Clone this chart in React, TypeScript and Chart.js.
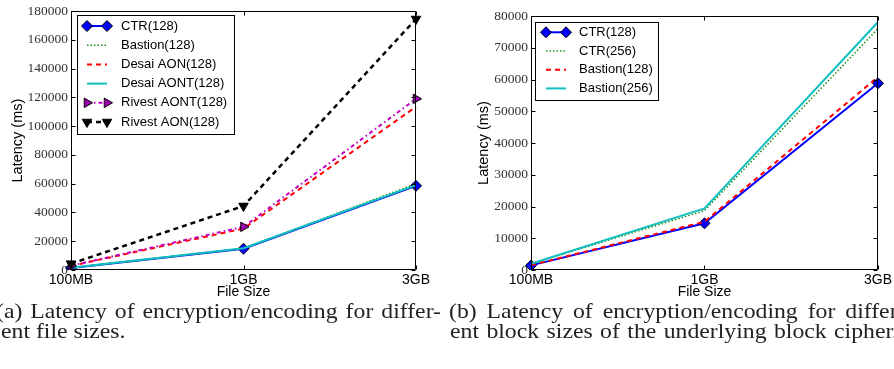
import React, { useEffect, useRef } from 'react';
import { Chart, registerables } from 'chart.js';
import { drawPoint } from 'chart.js/helpers';

Chart.register(...registerables);

// ---- data ----
const fileSizes = ['100MB', '1GB', '3GB'];

// (a) different file sizes
const aCtr128 = [1450, 14800, 58500];
const aBastion128 = [1500, 15000, 60000];
const aDesaiAon128 = [2900, 28800, 113500];
const aDesaiAont128 = [1500, 15100, 59000];
const aRivestAont128 = [3000, 30000, 119000];
const aRivestAon128 = [4400, 44500, 174500];
const aYMax = 180000;
const aYStep = 20000;

// (b) different block sizes
const bCtr128 = [1450, 14700, 58800];
const bCtr256 = [1900, 18700, 76000];
const bBastion128 = [1500, 15200, 60800];
const bBastion256 = [1950, 19400, 78100];
const bYMax = 80000;
const bYStep = 10000;

const captionA1 = '(a) Latency of encryption/encoding for differ-';
const captionA2 = 'ent file sizes.';
const captionB1 = '(b) Latency of encryption/encoding for differ-';
const captionB2 = 'ent block sizes of the underlying block cipher.';

// ---- styles ----
const BLUE = '#0000ff';
const GREEN = '#1a8c1a';
const RED = '#ff0000';
const CYAN = '#12bfbf';
const MAGENTA = '#c000c0';
const BLACK = '#000000';

const SANS = '"Liberation Sans", Arial, sans-serif';
const SERIF = '"Liberation Serif", "Times New Roman", serif';

function styleCtr(label: string, data: number[]) {
  return {
    label, data, borderColor: BLUE, backgroundColor: BLUE, borderWidth: 2,
    pointStyle: 'rectRot', pointRadius: 5.5, pointBackgroundColor: BLUE,
    pointBorderColor: '#000', pointBorderWidth: 1, pointRotation: 0,
  };
}
function styleDotted(label: string, data: number[], color: string) {
  return { label, data, borderColor: color, backgroundColor: color, borderWidth: 1.5, borderDash: [1.5, 2], pointRadius: 0 };
}
function styleDashed(label: string, data: number[], color: string, w = 2) {
  return { label, data, borderColor: color, backgroundColor: color, borderWidth: w, borderDash: [5, 4], pointRadius: 0 };
}
function styleSolid(label: string, data: number[], color: string) {
  return { label, data, borderColor: color, backgroundColor: color, borderWidth: 2, pointRadius: 0 };
}

const frameTicks = {
  id: 'frameTicks',
  afterDatasetsDraw(chart: any) {
    const { ctx, chartArea: a, scales } = chart;
    const L = Math.round(a.left) + 0.5;
    const R = Math.round(a.right) - 0.5;
    const T = Math.round(a.top) + 0.5;
    const B = Math.round(a.bottom) - 0.5;
    const tl = 4;
    ctx.save();
    ctx.strokeStyle = '#000';
    ctx.lineWidth = 1;
    ctx.setLineDash([]);
    ctx.beginPath();
    ctx.rect(L, T, R - L, B - T);
    const ys = scales.y;
    ys.ticks.forEach((_t: any, i: number) => {
      const py = Math.round(ys.getPixelForTick(i)) + 0.5;
      ctx.moveTo(L, py); ctx.lineTo(L + tl, py);
      ctx.moveTo(R, py); ctx.lineTo(R - tl, py);
    });
    const xs = scales.x;
    xs.ticks.forEach((_t: any, i: number) => {
      const px = Math.round(xs.getPixelForTick(i)) + 0.5;
      ctx.moveTo(px, B); ctx.lineTo(px, B - tl);
      ctx.moveTo(px, T); ctx.lineTo(px, T + tl);
    });
    ctx.stroke();
    ctx.restore();
  },
};

const boxLegend = {
  id: 'boxLegend',
  afterDraw(chart: any, _args: any, o: any) {
    if (!o || o.w === undefined) return;
    const { ctx } = chart;
    ctx.save();
    ctx.fillStyle = '#fff';
    ctx.fillRect(o.x, o.y, o.w, o.h);
    ctx.strokeStyle = '#000';
    ctx.lineWidth = 1;
    ctx.setLineDash([]);
    ctx.strokeRect(o.x + 0.5, o.y + 0.5, o.w, o.h);
    chart.data.datasets.forEach((ds: any, i: number) => {
      const cy = o.rowStart + i * o.rowStep;
      ctx.strokeStyle = ds.borderColor;
      ctx.lineWidth = ds.borderWidth;
      ctx.setLineDash(ds.borderDash || []);
      ctx.beginPath();
      ctx.moveTo(o.x1, cy);
      ctx.lineTo(o.x2, cy);
      ctx.stroke();
      ctx.setLineDash([]);
      if (ds.pointRadius > 0) {
        [o.x1, o.x2].forEach((px: number) => {
          ctx.fillStyle = ds.pointBackgroundColor;
          ctx.strokeStyle = ds.pointBorderColor;
          ctx.lineWidth = ds.pointBorderWidth;
          drawPoint(ctx, { pointStyle: ds.pointStyle, rotation: ds.pointRotation || 0, radius: ds.pointRadius, borderWidth: ds.pointBorderWidth }, px, cy);
        });
      }
      ctx.fillStyle = '#000';
      ctx.font = `13px ${SANS}`;
      ctx.textBaseline = 'middle';
      ctx.textAlign = 'left';
      ctx.fillText(ds.label, o.textX, cy);
    });
    ctx.restore();
  },
};

function makeConfig(datasets: any[], yMax: number, yStep: number, yWidth: number, padding: any, yTitlePad: number, legend: any) {
  const n = datasets.length;
  datasets.forEach((d, i) => { d.order = n - 1 - i; d.tension = 0; d.fill = false; });
  return {
    type: 'line',
    data: { labels: fileSizes, datasets },
    options: {
      animation: false,
      responsive: false,
      maintainAspectRatio: false,
      layout: { padding },
      plugins: { legend: { display: false }, tooltip: { enabled: false }, boxLegend: legend },
      scales: {
        x: {
          type: 'category',
          offset: false,
          grid: { display: false, drawTicks: false },
          border: { display: false },
          ticks: { color: '#000', font: { family: SANS, size: 14 }, padding: 2, maxRotation: 0, autoSkip: false },
          title: { display: true, text: 'File Size', color: '#000', font: { family: SANS, size: 14, lineHeight: 1 }, padding: { top: 0, bottom: 1 } },
          afterFit: (s: any) => { s.height = 30; },
        },
        y: {
          min: 0,
          max: yMax,
          grid: { display: false, drawTicks: false },
          border: { display: false },
          ticks: { stepSize: yStep, color: '#333', font: { family: SERIF, size: 13.5 }, padding: 3, callback: (v: any) => String(v) },
          title: { display: true, text: 'Latency (ms)', color: '#000', font: { family: SANS, size: 14.5, lineHeight: 1.2 }, padding: { top: yTitlePad, bottom: 0 } },
          afterFit: (s: any) => { s.width = yWidth; },
        },
      },
    },
    plugins: [frameTicks, boxLegend],
  };
}

function ChartCanvas({ config, left }: { config: () => any; left: number }) {
  const ref = useRef<HTMLCanvasElement | null>(null);
  useEffect(() => {
    if (!ref.current) return;
    const chart = new Chart(ref.current, config());
    return () => chart.destroy();
  }, []);
  return (
    <div style={{ position: 'absolute', left, top: 0, width: 447, height: 300 }}>
      <canvas ref={ref} width={447} height={300} style={{ display: 'block', width: 447, height: 300 }} />
    </div>
  );
}

const SX = 1.13;

function CapLine({ text, left, top, width, justify }: { text: string; left: number; top: number; width: number; justify: boolean }) {
  return (
    <div
      style={{
        position: 'absolute',
        left,
        top,
        width: width / SX,
        fontFamily: SERIF,
        fontSize: 21,
        lineHeight: '22px',
        color: '#222',
        whiteSpace: justify ? 'normal' : 'nowrap',
        textAlign: justify ? 'justify' : 'left',
        textAlignLast: justify ? 'justify' : 'auto',
        transform: `scaleX(${SX})`,
        transformOrigin: '0 0',
        height: 22,
      }}
    >
      {text}
    </div>
  );
}

export default function App() {
  const cfgA = () =>
    makeConfig(
      [
        styleCtr('CTR(128)', aCtr128),
        styleDotted('Bastion(128)', aBastion128, GREEN),
        styleDashed('Desai AON(128)', aDesaiAon128, RED),
        styleSolid('Desai AONT(128)', aDesaiAont128, CYAN),
        { label: 'Rivest AONT(128)', data: aRivestAont128, borderColor: MAGENTA, backgroundColor: MAGENTA, borderWidth: 2, borderDash: [4, 3, 1.5, 3],
          pointStyle: 'triangle', pointRotation: 90, pointRadius: 5.5, pointBackgroundColor: '#a000b0', pointBorderColor: '#000', pointBorderWidth: 1 },
        { label: 'Rivest AON(128)', data: aRivestAon128, borderColor: BLACK, backgroundColor: BLACK, borderWidth: 2.5, borderDash: [5, 4],
          pointStyle: 'triangle', pointRotation: 180, pointRadius: 5.5, pointBackgroundColor: '#000', pointBorderColor: '#000', pointBorderWidth: 1 },
      ],
      aYMax, aYStep, 71, { left: 0, right: 31, top: 9, bottom: 0 }, 8.8,
      { x: 77, y: 15, w: 157, h: 119, rowStart: 26, rowStep: 19.2, x1: 87, x2: 107, textX: 121 },
    );
  const cfgB = () =>
    makeConfig(
      [
        styleCtr('CTR(128)', bCtr128),
        styleDotted('CTR(256)', bCtr256, GREEN),
        styleDashed('Bastion(128)', bBastion128, RED),
        styleSolid('Bastion(256)', bBastion256, CYAN),
      ],
      bYMax, bYStep, 84, { left: 0, right: 15, top: 16, bottom: 0 }, 28.3,
      { x: 88, y: 22, w: 123, h: 78, rowStart: 32.3, rowStep: 18.7, x1: 99, x2: 119, textX: 132 },
    );

  return (
    <div style={{ position: 'absolute', left: 0, top: 0, width: 894, height: 369, overflow: 'hidden', background: '#fff' }}>
      <ChartCanvas config={cfgA} left={0} />
      <ChartCanvas config={cfgB} left={447} />
      <CapLine text={captionA1} left={-4} top={300} width={445} justify={true} />
      <CapLine text={captionA2} left={1} top={320} width={200} justify={false} />
      <CapLine text={captionB1} left={449} top={300} width={456} justify={true} />
      <CapLine text={captionB2} left={450} top={320} width={448} justify={true} />
    </div>
  );
}
